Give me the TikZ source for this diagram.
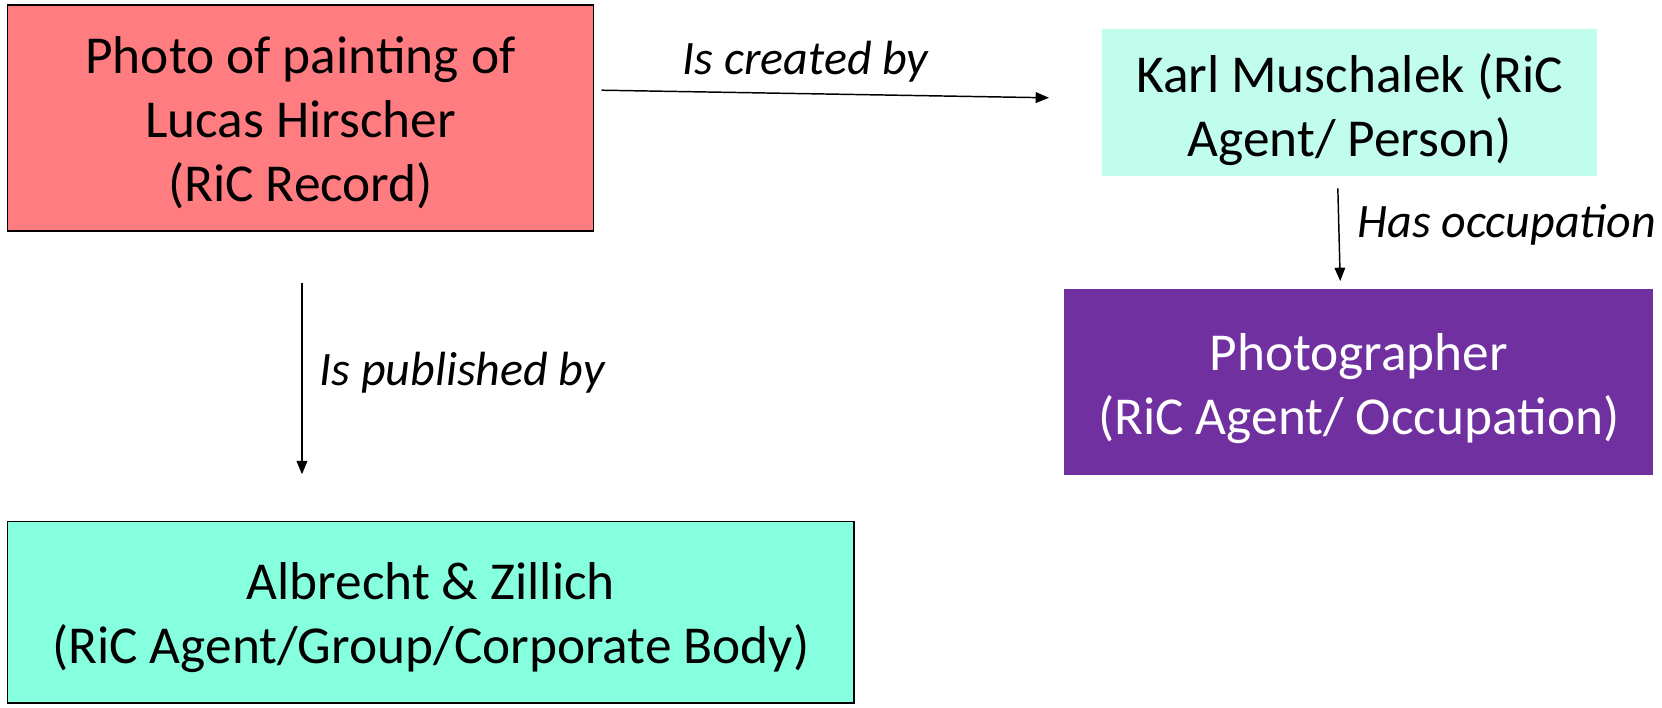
\documentclass[tikz,border=0pt]{standalone}
\usepackage{fontspec}
\setmainfont{Carlito}
\usetikzlibrary{arrows.meta,calc}
\definecolor{recred}{RGB}{255,124,128}
\definecolor{personcyan}{RGB}{193,253,236}
\definecolor{occpurple}{RGB}{112,48,160}
\definecolor{groupaqua}{RGB}{134,255,222}
\tikzset{every picture/.style={line width=0.75pt}}
\tikzset{
  ricbox/.style={inner sep=0pt,outer sep=0pt},
  rictext/.style={inner sep=0pt,align=center,font=\fontsize{40}{48}\selectfont},
  relarrow/.style={line width=1.1pt,-{Triangle[length=10pt,width=8pt]}},
  rellabel/.style={font=\fontsize{36}{43}\selectfont\itshape,inner sep=0pt}
}

\begin{document}
\begin{tikzpicture}[x=0.75pt,y=0.75pt,yscale=-1,xscale=1]
		\useasboundingbox (0,0) rectangle (1662,707);
		
		%Shape: Rectangle [id:record]
		\node[ricbox,draw,line width=1.1pt,fill=recred,minimum width=439.5pt,minimum height=169.5pt] (record) at (300.5,118.2) {};
		%Shape: Rectangle [id:person]
		\node[ricbox,fill=personcyan,minimum width=371.25pt,minimum height=110.25pt] (person) at (1349.5,102.3) {};
		%Shape: Rectangle [id:occupation]
		\node[ricbox,fill=occpurple,minimum width=442pt,minimum height=139.2pt] (occupation) at (1358.8,382.2) {};
		%Shape: Rectangle [id:group]
		\node[ricbox,draw,line width=1.1pt,fill=groupaqua,minimum width=635pt,minimum height=136pt] (group) at (430.7,612.3) {};
		
		% Text Node
		\node[rictext] (recordtxt) at ($(record.center)+(0,4.5)$) {Photo of painting of\\Lucas Hirscher\\(RiC Record)};
		% Text Node
		\node[rictext] (persontxt) at ($(person.center)+(0,7)$) {Karl Muschalek (RiC\\Agent/ Person)};
		% Text Node
		\node[rictext,text=white] (occupationtxt) at ($(occupation.center)+(0,6.5)$) {Photographer\\(RiC Agent/ Occupation)};
		% Text Node
		\node[rictext] (grouptxt) at ($(group.center)+(0,5.5)$) {Albrecht \& Zillich\\(RiC Agent/Group/Corporate Body)};
		
		%Straight Lines [id:created]
		\draw[relarrow] ($(record.east)+(8,-28)$) -- ($(person.west)+(-53,-4.5)$);
		%Straight Lines [id:occupied]
		\draw[relarrow,shorten <=9.5pt,shorten >=6.3pt] ([xshift=-9pt]person.south) -- ([xshift=-6.8pt]person.south |- occupation.north);
		%Straight Lines [id:published]
		\draw[relarrow,shorten <=39pt,shorten >=35.5pt] ([xshift=1.1pt]record.south) -- ([xshift=1.1pt]record.south |- group.north);
		
		% Text Node
		\node[rellabel] (createdlbl) at (805.6,61.5) {Is created by};
		% Text Node
		\node[rellabel,anchor=west] (occupiedlbl) at (1357,225) {Has occupation};
		% Text Node
		\node[rellabel,anchor=west] (publishedlbl) at (319,373) {Is published by};
\end{tikzpicture}
\end{document}
